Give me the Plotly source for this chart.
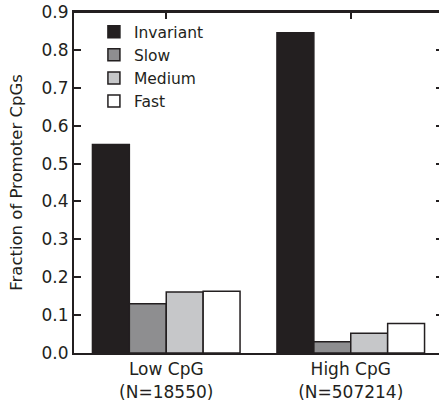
import plotly.graph_objects as go

categories = ["Low CpG<br>(N=18550)", "High CpG<br>(N=507214)"]
series_names = ["Invariant", "Slow", "Medium", "Fast"]
invariant = [0.550, 0.845]
slow = [0.130, 0.030]
medium = [0.161, 0.052]
fast = [0.163, 0.078]
y_ticks = [0.0, 0.1, 0.2, 0.3, 0.4, 0.5, 0.6, 0.7, 0.8, 0.9]

colors = ["#231f20", "#8e8e90", "#c6c7c9", "#ffffff"]
ink = "#231f20"
font = "DejaVu Sans"

fig = go.Figure()
for name, vals, col in zip(series_names, [invariant, slow, medium, fast], colors):
    fig.add_trace(go.Bar(
        x=[0, 1], y=vals, name=name,
        marker=dict(color=col, line=dict(color=ink, width=1.5)),
    ))

# invisible trace that activates the top tick axis
fig.add_trace(go.Scatter(x=[0], y=[0], xaxis="x2", mode="markers",
                         marker=dict(opacity=0), showlegend=False,
                         hoverinfo="skip"))

fig.update_layout(
    width=443, height=402,
    margin=dict(l=74, r=0, t=12, b=49, autoexpand=False),
    paper_bgcolor="white", plot_bgcolor="white",
    barmode="group", bargap=0.2, bargroupgap=0,
    font=dict(family=font, size=17, color=ink),
    showlegend=True,
    legend=dict(x=0.054, y=0.991, xanchor="left", yanchor="top",
                bgcolor="rgba(0,0,0,0)", font=dict(size=15.5, color=ink),
                tracegroupgap=0, itemwidth=30),
    xaxis=dict(range=[-0.5, 1.5], tickmode="array", tickvals=[0, 1],
               ticktext=categories, showline=True,
               linecolor=ink, linewidth=2, ticks="", showgrid=False,
               zeroline=False, automargin=False,
               tickfont=dict(size=17, color=ink)),
    xaxis2=dict(overlaying="x", side="top", matches="x", showline=True,
                linecolor=ink, linewidth=2, ticks="inside", ticklen=7,
                tickwidth=1.5, tickcolor=ink, tickmode="array", tickvals=[0, 1],
                showticklabels=False, showgrid=False, zeroline=False,
                automargin=False),
    yaxis=dict(range=[0, 0.9], tickmode="array", tickvals=y_ticks,
               ticktext=[f"{v:.1f}" for v in y_ticks], showline=True,
               mirror="ticks", linecolor=ink, linewidth=2, ticks="inside",
               ticklen=7, tickwidth=1.5, tickcolor=ink, showgrid=False,
               zeroline=False, automargin=False,
               tickfont=dict(size=17, color=ink),
               title=dict(text="Fraction of Promoter CpGs",
                          font=dict(size=16.5, color=ink))),
    shapes=[dict(type="line", xref="paper", yref="paper", x0=0, x1=1,
                 y0=1, y1=1, line=dict(color=ink, width=2), layer="above")],
)

fig.write_html(
    "out.html",
    config={"displayModeBar": False},
    post_script="document.body.style.margin='0';"
                "document.body.style.overflow='hidden';",
)
